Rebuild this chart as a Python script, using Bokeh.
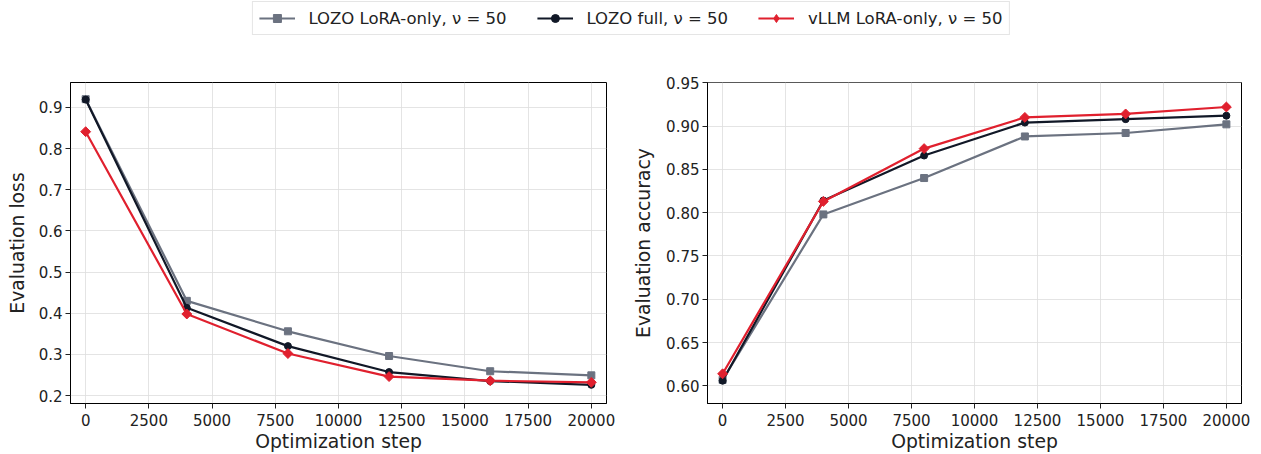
from bokeh.plotting import figure
from bokeh.layouts import column, row
from bokeh.models import Legend, LegendItem, FixedTicker, PrintfTickFormatter, Range1d, ColumnDataSource
from bokeh.embed import file_html
from bokeh.resources import INLINE
import numpy as np

# ---------------- data ----------------
steps = [0, 4000, 8000, 12000, 16000, 20000]

loss_lozo_lora = [0.920, 0.430, 0.356, 0.296, 0.259, 0.249]
loss_lozo_full = [0.919, 0.413, 0.320, 0.257, 0.235, 0.226]
loss_vllm_lora = [0.841, 0.398, 0.302, 0.246, 0.236, 0.232]

acc_lozo_lora = [0.607, 0.798, 0.840, 0.888, 0.892, 0.902]
acc_lozo_full = [0.606, 0.814, 0.866, 0.904, 0.908, 0.912]
acc_vllm_lora = [0.614, 0.813, 0.874, 0.910, 0.914, 0.922]

x_ticks = [0, 2500, 5000, 7500, 10000, 12500, 15000, 17500, 20000]
loss_ticks = [0.2, 0.3, 0.4, 0.5, 0.6, 0.7, 0.8, 0.9]
acc_ticks = [0.60, 0.65, 0.70, 0.75, 0.80, 0.85, 0.90, 0.95]

series_labels = ["LOZO LoRA-only, \u03bd = 50", "LOZO full, \u03bd = 50", "vLLM LoRA-only, \u03bd = 50"]

# ---------------- style ----------------
FONT = "DejaVu Sans"
COLORS = ["#6b7280", "#111827", "#e0202e"]
MARKERS = [("square", 7, 0.0), ("circle", 7, 0.0), ("square", 7, np.pi / 4)]
LEG_MARKERS = [("square", 7, 0.0), ("circle", 7, 0.0), ("diamond", 7, 0.0)]
LW = 2.2


def draw_series(p, ys_list, markers):
    rs = []
    for ys, c, (m, s, a) in zip(ys_list, COLORS, markers):
        src = ColumnDataSource(dict(x=steps, y=ys))
        l = p.line("x", "y", source=src, line_color=c, line_width=LW)
        sc = p.scatter("x", "y", source=src, marker=m, size=s, angle=a,
                       fill_color=c, line_color=c)
        rs.append((l, sc))
    return rs


def style(p, ylabel, yticks, yfmt):
    p.outline_line_color = "black"
    p.outline_line_width = 1
    p.outline_line_alpha = 1
    for ax in (p.xaxis, p.yaxis):
        ax.axis_line_color = "black"
        ax.major_tick_line_color = "#222222"
        ax.major_tick_out = 5
        ax.major_tick_in = 0
        ax.minor_tick_line_color = None
        ax.major_label_text_font = FONT
        ax.major_label_text_font_size = "15px"
        ax.major_label_text_color = "#222222"
        ax.axis_label_text_font = FONT
        ax.axis_label_text_font_size = "18.8px"
        ax.axis_label_text_font_style = "normal"
        ax.axis_label_text_color = "#222222"
    p.xaxis.ticker = FixedTicker(ticks=x_ticks)
    p.xaxis.formatter = PrintfTickFormatter(format="%d")
    p.xaxis.axis_label = "Optimization step"
    p.xaxis.major_label_standoff = 5
    p.xaxis.axis_label_standoff = 2
    p.yaxis.ticker = FixedTicker(ticks=yticks)
    p.yaxis.formatter = PrintfTickFormatter(format=yfmt)
    p.yaxis.axis_label = ylabel
    p.yaxis.major_label_standoff = 3
    p.grid.grid_line_color = "#dddddd"
    p.grid.grid_line_alpha = 0.8
    p.grid.grid_line_width = 1
    p.xgrid.ticker = FixedTicker(ticks=x_ticks)
    p.ygrid.ticker = FixedTicker(ticks=yticks)


ROW_H = 414

p1 = figure(width=630, height=ROW_H, output_backend="svg", toolbar_location=None,
            x_range=Range1d(-600, 20600), y_range=Range1d(0.1806, 0.9605),
            min_border_left=70, min_border_right=24, min_border_top=42, min_border_bottom=50)
draw_series(p1, [loss_lozo_lora, loss_lozo_full, loss_vllm_lora], MARKERS)
style(p1, "Evaluation loss", loss_ticks, "%.1f")
p1.yaxis.axis_label_standoff = 8

p2 = figure(width=631, height=ROW_H, output_backend="svg", toolbar_location=None,
            x_range=Range1d(-600, 20600), y_range=Range1d(0.5797, 0.9503),
            min_border_left=76, min_border_right=20, min_border_top=42, min_border_bottom=50)
draw_series(p2, [acc_lozo_lora, acc_lozo_full, acc_vllm_lora], MARKERS)
style(p2, "Evaluation accuracy", acc_ticks, "%.2f")
p2.yaxis.axis_label_standoff = 9

# ---------------- legend strip ----------------
pl = figure(width=1261, height=40, output_backend="svg", toolbar_location=None,
            x_axis_type=None, y_axis_type=None, x_range=Range1d(-10, -9), y_range=Range1d(-10, -9),
            min_border=0, outline_line_color=None)
pl.grid.visible = False
rs = draw_series(pl, [loss_lozo_lora, loss_lozo_full, loss_vllm_lora], LEG_MARKERS)
items = [LegendItem(label=lab, renderers=[l, sc]) for lab, (l, sc) in zip(series_labels, rs)]
leg = Legend(items=items, orientation="horizontal", location="top_center",
             label_text_font=FONT, label_text_font_size="16.5px", label_text_color="#222222",
             glyph_width=36, glyph_height=20, label_standoff=14, spacing=30,
             padding=6, margin=1, border_line_color="#cccccc", border_line_width=1,
             background_fill_color="white", background_fill_alpha=1)
pl.add_layout(leg, "center")

layout = column(pl, row(p1, p2))
open("out.html", "w").write(file_html(layout, INLINE))
